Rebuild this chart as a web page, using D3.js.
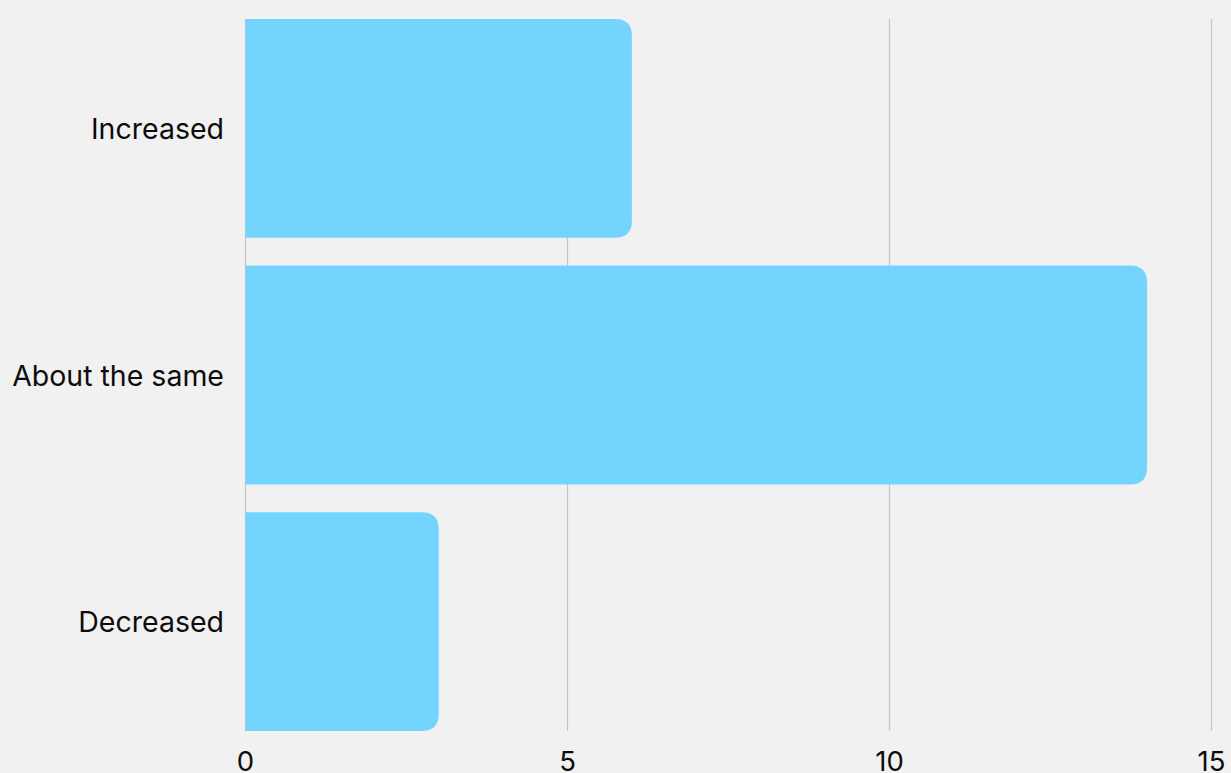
<!DOCTYPE html>
<html><head><meta charset="utf-8">
<script src="https://cdn.jsdelivr.net/npm/d3@7"></script>
<style>html,body{margin:0;padding:0;background:#f1f1f1;}svg{display:block;}</style>
</head><body>
<script>
const categories = ["Increased", "About the same", "Decreased"];
const values = [6, 14, 3];
const tickValues = [0, 5, 10, 15];

const W = 1231, H = 773;
const svg = d3.select("body").append("svg").attr("width", W).attr("height", H);
svg.append("rect").attr("width", W).attr("height", H).attr("fill", "#f1f1f1");

const x = d3.scaleLinear().domain([0, 15]).range([245.5, 1211.5]);
const y = d3.scaleBand().domain(categories).range([19, 731]).paddingInner(0.113).paddingOuter(0);

// gridlines
svg.append("g").selectAll("line").data(tickValues).join("line")
  .attr("x1", d => x(d)).attr("x2", d => x(d))
  .attr("y1", 19).attr("y2", 731)
  .attr("stroke", "#c6c6c6").attr("stroke-width", 1.2);

const r = 17;
function barPath(v, cat) {
  const x0 = x(0), x1 = x(v), y0 = y(cat), y1 = y0 + y.bandwidth();
  return `M${x0},${y0}H${x1 - r}Q${x1},${y0} ${x1},${y0 + r}V${y1 - r}Q${x1},${y1} ${x1 - r},${y1}H${x0}Z`;
}
svg.append("g").selectAll("path").data(categories).join("path")
  .attr("d", (c, i) => barPath(values[i], c))
  .attr("fill", "#73d5fe");

// category labels
svg.append("g").selectAll("text").data(categories).join("text")
  .attr("x", 224).attr("y", c => y(c) + y.bandwidth() / 2)
  .attr("text-anchor", "end").attr("dominant-baseline", "central")
  .attr("font-family", "Inter, sans-serif").attr("font-size", 28.5)
  .attr("fill", "#0d0d0d").text(c => c);

// x tick labels
svg.append("g").selectAll("text").data(tickValues).join("text")
  .attr("x", d => x(d)).attr("y", 771)
  .attr("text-anchor", "middle")
  .attr("font-family", "Inter, sans-serif").attr("font-size", 27.5)
  .attr("fill", "#0d0d0d").text(d => d);
</script>
</body></html>
